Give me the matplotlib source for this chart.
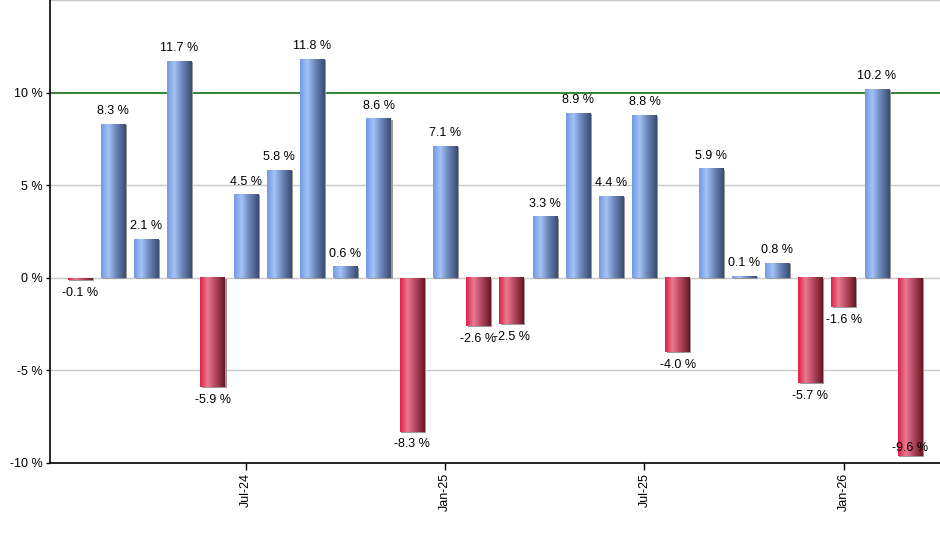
import numpy as np
import matplotlib
matplotlib.use("Agg")
import matplotlib.pyplot as plt
from matplotlib.colors import LinearSegmentedColormap
import matplotlib.transforms as mtransforms

# ---- data ----
months = ["Feb-24", "Mar-24", "Apr-24", "May-24", "Jun-24", "Jul-24", "Aug-24", "Sep-24",
          "Oct-24", "Nov-24", "Dec-24", "Jan-25", "Feb-25", "Mar-25", "Apr-25", "May-25",
          "Jun-25", "Jul-25", "Aug-25", "Sep-25", "Oct-25", "Nov-25", "Dec-25", "Jan-26",
          "Feb-26", "Mar-26"]
returns = [-0.1, 8.3, 2.1, 11.7, -5.9, 4.5, 5.8, 11.8, 0.6, 8.6, -8.3, 7.1, -2.6, -2.5,
           3.3, 8.9, 4.4, 8.8, -4.0, 5.9, 0.1, 0.8, -5.7, -1.6, 10.2, -9.6]
tick_labels = ["Jul-24", "Jan-25", "Jul-25", "Jan-26"]
y_ticks = [-10, -5, 0, 5, 10]

plt.rcParams['font.family'] = ['Liberation Sans', 'DejaVu Sans']

fig = plt.figure(figsize=(9.4, 5.5), dpi=100)
ax = fig.add_axes([50/940, 1 - 463/550, 890/940, 463/550])

x = np.arange(len(returns))
width = 0.74
ax.set_xlim(-0.9, 25.9)
ax.set_ylim(-10, 15)

blue_cmap = LinearSegmentedColormap.from_list(
    "b", [(0, "#7199e6"), (0.3, "#a6c3f5"), (0.6, "#6d88bd"), (1, "#3a4c70")])
red_cmap = LinearSegmentedColormap.from_list(
    "r", [(0, "#df2048"), (0.3, "#e97a92"), (0.6, "#b84a62"), (1, "#6a1626")])
grad = np.linspace(0, 1, 64).reshape(1, -1)

shadow_tr = mtransforms.offset_copy(ax.transData, fig=fig, x=1.5, y=-1.0, units='dots')

for xi, v in zip(x, returns):
    l, r = xi - width/2, xi + width/2
    b, t = (0, v) if v >= 0 else (v, 0)
    # shadow
    ax.add_patch(plt.Rectangle((l, b), width, t - b, facecolor="#9a9a9a",
                               edgecolor="none", transform=shadow_tr, zorder=2))
    cmap = blue_cmap if v >= 0 else red_cmap
    ax.imshow(grad, cmap=cmap, extent=(l, r, b, t), aspect='auto',
              interpolation='bilinear', zorder=3)
    lab = f"{v:.1f} %"
    if v >= 0:
        ax.annotate(lab, (xi, v), xytext=(0, 5), textcoords='offset points',
                    ha='center', va='bottom', fontsize=9, zorder=5)
    elif v < -8.8:
        ax.annotate(lab, (xi, v), xytext=(0, 1), textcoords='offset points',
                    ha='center', va='bottom', fontsize=9, zorder=5)
    else:
        ax.annotate(lab, (xi, v), xytext=(0, -5), textcoords='offset points',
                    ha='center', va='top', fontsize=9, zorder=5)

# gridlines
for g in [15, 5, 0, -5]:
    ax.axhline(g, color="#c8c8c8", lw=1, zorder=1)
ax.axhline(10, color="#006400", lw=1.1, zorder=1)

ax.set_xlim(-0.9, 25.9)
ax.set_ylim(-10, 15)

ax.set_yticks(y_ticks)
ax.set_yticklabels([f"{t} %" for t in y_ticks], fontsize=9)
tick_pos = [months.index(m) for m in tick_labels]
ax.set_xticks(tick_pos)
ax.set_xticklabels(tick_labels, rotation=90, fontsize=9)
ax.tick_params(axis='x', length=5, width=1, direction='out', pad=2)
ax.tick_params(axis='y', length=3, width=1, direction='out', pad=2)

for s in ['top', 'right']:
    ax.spines[s].set_visible(False)
for s in ['left', 'bottom']:
    ax.spines[s].set_linewidth(1.2)
    ax.spines[s].set_zorder(6)

fig.savefig("out.png", dpi=100)
